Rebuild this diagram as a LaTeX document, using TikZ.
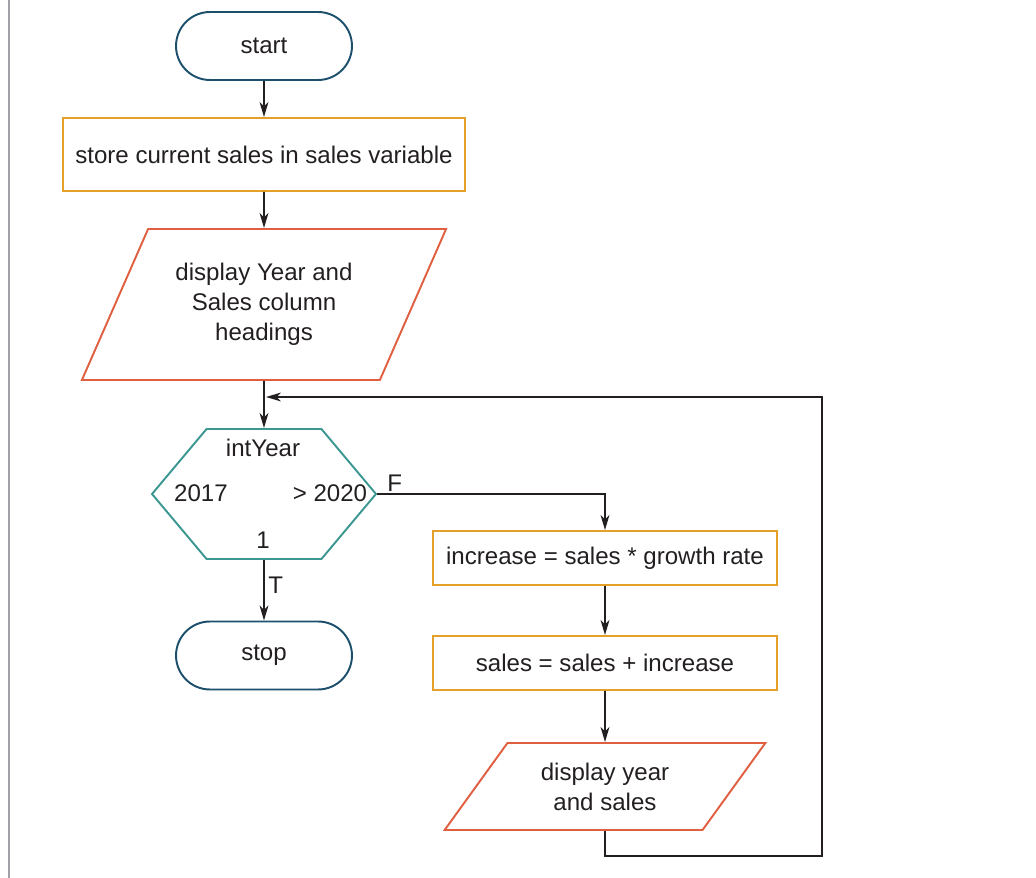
\documentclass[tikz,border=0pt]{standalone}
\usepackage{fontspec}
\setmainfont{Liberation Sans}
\usepackage{xcolor}
\usepackage{tikz}
\usetikzlibrary{arrows.meta, shapes.geometric, shapes.misc, shapes.symbols}

\definecolor{ink}{HTML}{231F20}
\definecolor{termblue}{HTML}{1B4F6B}
\definecolor{procgold}{HTML}{E5A02A}
\definecolor{iored}{HTML}{E15F41}
\definecolor{decteal}{HTML}{3C9691}
\definecolor{framegray}{HTML}{A0A0A6}

\tikzset{
  lbl/.style={font=\fontsize{13.7}{17}\selectfont, text=ink, inner sep=0pt},
  terminal/.style={lbl, rounded rectangle, draw=termblue, line width=1.1pt,
    minimum width=3.52cm, minimum height=1.36cm},
  process/.style={lbl, rectangle, draw=procgold, line width=1.1pt},
  iobox/.style={lbl, trapezium, trapezium stretches=true, draw=iored,
    line width=1.1pt, align=center},
  decision/.style={signal, signal to=west and east, signal pointer angle=100,
    draw=decteal, line width=1.1pt, inner sep=0pt,
    minimum width=4.48cm, minimum height=2.6cm},
  flow/.style={->, draw=ink, line width=1.1pt},
}

\begin{document}
\begin{tikzpicture}[x=0.02cm, y=-0.02cm, >={Stealth[length=8.5pt,width=5pt,inset=2.5pt]}]
    \useasboundingbox (0,0) rectangle (1036,878);
    % left edge of the page frame
    \draw[framegray, line width=1.6pt] (9,0) -- (9,878);

    % main column
    \node[terminal] (start) at (264,46) {start};
    \node[process, minimum width=8.04cm, minimum height=1.46cm] (store) at (264,154.5)
        {store current sales in sales variable};
    \node[iobox, trapezium left angle=58.4, trapezium right angle=121.6,
        minimum width=7.3cm, minimum height=3.02cm] (heads) at (264,304.5)
        {display Year and\\Sales column\\headings};
    \node[decision] (test) at (264,494) {};
    \node[lbl] (yearvar) at (263,448) {intYear};
    \node[lbl] (first) at (201,493) {2017};
    \node[lbl] (last) at (330,493) {> 2020};
    \node[lbl] (stepval) at (263,540) {1};
    \node[terminal] (stop) at (264,655.5) {stop};

    % loop body
    \node[process, minimum width=6.88cm, minimum height=1.08cm] (incr) at (605,558)
        {increase = sales * growth rate};
    \node[process, minimum width=6.88cm, minimum height=1.08cm] (accum) at (605,663)
        {sales = sales + increase};
    \node[iobox, trapezium left angle=49, trapezium right angle=131,
        minimum width=6.42cm, minimum height=1.74cm] (show) at (605,786.5)
        {display year\\and sales};

    % connectors
    \coordinate (loopin) at (266,397);
    \coordinate (loopcorner) at (822,856);
    \draw[flow] (start.south) -- (store.north);
    \draw[flow] (store.south) -- (heads.north);
    \draw[flow] (heads.south) -- (test.north);
    \draw[flow] (test.south) -- node[lbl, right, pos=0.42, xshift=2pt] {T} (stop.north);
    \draw[flow] (test.east) -| node[lbl, above right, pos=0.02, yshift=1pt] {F} (incr.north);
    \draw[flow] (incr.south) -- (accum.north);
    \draw[flow] (accum.south) -- (show.north);
    \draw[flow] (show.south) |- (loopcorner) |- (loopin);
\end{tikzpicture}
\end{document}
